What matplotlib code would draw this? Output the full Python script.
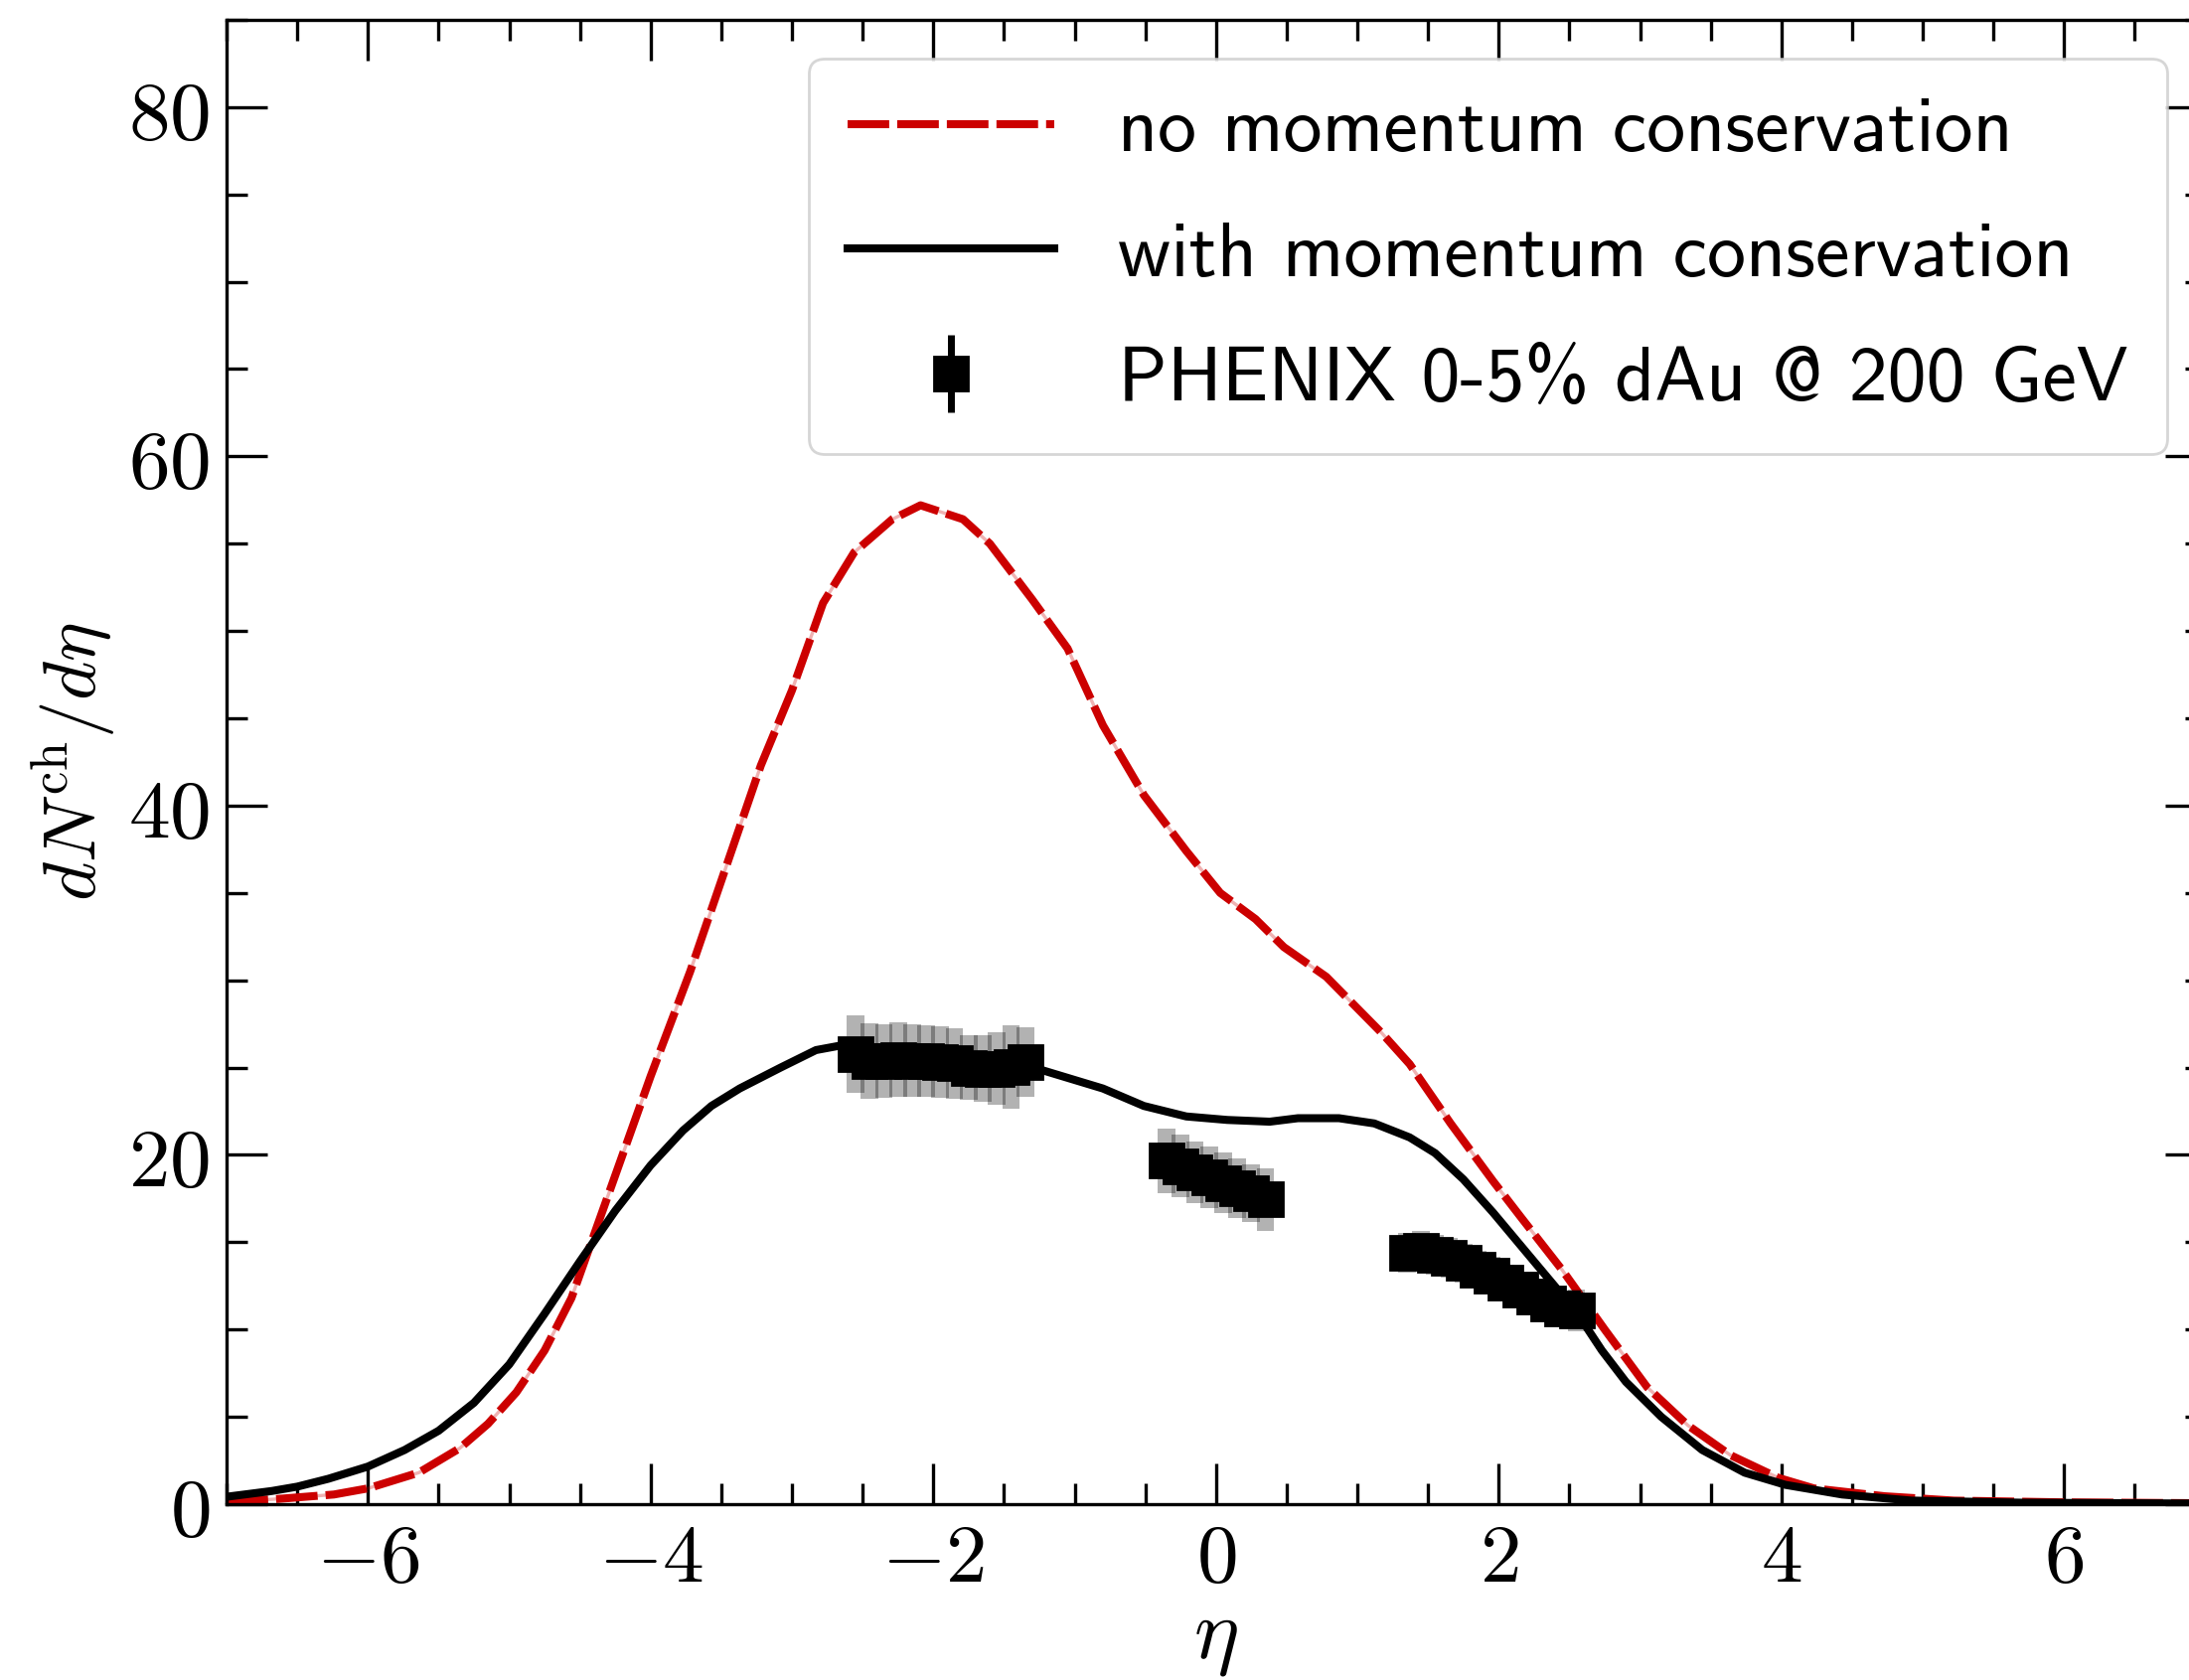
import matplotlib
matplotlib.use('Agg')
import matplotlib.pyplot as plt
from matplotlib.ticker import MultipleLocator
import numpy as np

# model curves: dN_ch/deta vs eta
eta_nomc = [-7.0, -6.63, -6.24, -6.0, -5.64, -5.35, -5.15, -4.95, -4.75, -4.56,
            -4.41, -4.26, -4.0, -3.72, -3.47, -3.22, -3.0, -2.78, -2.56, -2.29,
            -2.09, -1.79, -1.60, -1.30, -1.05, -0.80, -0.51, -0.21, 0.03, 0.28,
            0.48, 0.78, 1.17, 1.37, 1.66, 1.96, 2.16, 2.45, 2.75, 3.05, 3.34,
            3.64, 3.98, 4.23, 4.73, 5.22, 6.0, 7.0]
dn_nomc = [0.13, 0.3, 0.55, 0.9, 1.8, 3.2, 4.6, 6.4, 8.8, 11.8,
           15.2, 18.6, 24.5, 30.5, 36.4, 42.3, 46.6, 51.6, 54.5, 56.4,
           57.2, 56.4, 55.0, 51.8, 49.0, 44.6, 40.6, 37.4, 35.0, 33.5,
           31.9, 30.2, 27.0, 25.2, 21.8, 18.5, 16.4, 13.4, 10.0, 6.7, 4.5,
           2.8, 1.5, 0.9, 0.45, 0.2, 0.1, 0.05]

eta_mc = [-7.0, -6.68, -6.5, -6.28, -6.0, -5.74, -5.5, -5.25, -5.0, -4.75,
          -4.5, -4.25, -4.0, -3.77, -3.57, -3.37, -3.08, -2.83, -2.63, -2.5,
          -2.0, -1.5, -1.25, -0.8, -0.51, -0.21, 0.08, 0.38, 0.58, 0.87,
          1.12, 1.37, 1.55, 1.75, 1.96, 2.26, 2.55, 2.73, 2.9, 3.15, 3.44,
          3.74, 4.03, 4.43, 4.92, 5.71, 7.0]
dn_mc = [0.42, 0.75, 1.0, 1.45, 2.15, 3.1, 4.2, 5.8, 8.0, 10.9,
         13.9, 16.8, 19.4, 21.4, 22.8, 23.8, 25.0, 26.0, 26.3, 26.2,
         26.0, 25.3, 24.9, 23.8, 22.8, 22.2, 22.0, 21.9, 22.1, 22.1,
         21.8, 21.0, 20.1, 18.6, 16.7, 13.8, 11.0, 8.8, 7.0, 5.0, 3.1,
         1.8, 1.1, 0.55, 0.2, 0.08, 0.03]

# PHENIX 0-5% dAu, 200 GeV
eta_data = [-2.55, -2.45, -2.35, -2.25, -2.15, -2.05, -1.95, -1.85, -1.75, -1.65, -1.55, -1.45, -1.35,
            -0.35, -0.25, -0.15, -0.05, 0.05, 0.15, 0.25, 0.35,
            1.35, 1.45, 1.55, 1.65, 1.75, 1.85, 1.95, 2.05, 2.15, 2.25, 2.35, 2.45, 2.55]
dn_data = [25.78, 25.38, 25.37, 25.45, 25.40, 25.37, 25.30, 25.23, 25.00, 24.94, 24.94, 25.02, 25.31,
           19.67, 19.35, 19.00, 18.70, 18.40, 18.10, 17.80, 17.44,
           14.40, 14.50, 14.30, 14.10, 13.80, 13.45, 13.10, 12.70, 12.30, 11.90, 11.50, 11.20, 11.10]
sys_data = [2.23, 2.15, 2.10, 2.12, 2.08, 2.07, 2.04, 2.02, 1.87, 1.92, 2.06, 2.38, 1.99,
            1.85, 1.80, 1.78, 1.76, 1.73, 1.70, 1.66, 1.81,
            1.15, 1.16, 1.14, 1.12, 1.10, 1.07, 1.05, 1.02, 0.98, 0.95, 0.92, 0.90, 1.20]
stat_data = [0.0] * len(eta_data)

xticks = [-6, -4, -2, 0, 2, 4, 6]
yticks = [0, 20, 40, 60, 80]

plt.rcParams.update({
    'mathtext.fontset': 'cm',
    'axes.linewidth': 1.2,
    'xtick.direction': 'in',
    'ytick.direction': 'in',
    'xtick.top': True,
    'ytick.right': True,
    'xtick.major.size': 14.8,
    'ytick.major.size': 14.8,
    'xtick.minor.size': 7.5,
    'ytick.minor.size': 7.5,
    'xtick.major.width': 1.2,
    'ytick.major.width': 1.2,
    'xtick.minor.width': 1.2,
    'ytick.minor.width': 1.2,
})

fig = plt.figure(figsize=(11.015, 8.455), dpi=200)
ax = fig.add_axes([0.1035, 0.1047, 0.904, 0.8835])

red = '#cc0000'
ax.plot(eta_nomc, dn_nomc, color=red, lw=1.2, alpha=0.3, zorder=2)
ax.plot(eta_nomc, dn_nomc, color=red, lw=2.9, dashes=(5.2, 1.0),
        label='no momentum conservation', zorder=2)
ax.plot(eta_mc, dn_mc, color='k', lw=2.9, label='with momentum conservation', zorder=2)

lo = np.array(dn_data) - np.array(sys_data)
ax.bar(eta_data, 2 * np.array(sys_data), bottom=lo, width=0.125,
       color='k', alpha=0.3, linewidth=0, zorder=3)
ax.errorbar(eta_data, dn_data, yerr=stat_data, fmt='s', color='k', ms=12,
            elinewidth=2.5, label=r'PHENIX 0-5% dAu @ 200 GeV', zorder=4)

ax.set_xlim(-7, 7)
ax.set_ylim(0, 85)
ax.set_xticks(xticks, [r'$%d$' % t for t in xticks])
ax.set_yticks(yticks, [r'$%d$' % t for t in yticks])
ax.xaxis.set_minor_locator(MultipleLocator(0.5))
ax.yaxis.set_minor_locator(MultipleLocator(5))
ax.tick_params(axis='both', which='major', labelsize=30)
ax.tick_params(axis='x', which='major', pad=5)
ax.tick_params(axis='y', which='major', pad=6)

ax.set_xlabel(r'$\eta$', fontsize=31, labelpad=-1)
ax.set_ylabel(r'$dN^{\rm ch}/d\eta$', fontsize=27, labelpad=4)

ax.legend(loc='upper right', prop={'family': 'cmss10', 'size': 28},
          handlelength=2.68, handletextpad=0.82, labelspacing=0.72,
          borderpad=0.5, borderaxespad=0.5)

fig.savefig('out.png', dpi=200)
